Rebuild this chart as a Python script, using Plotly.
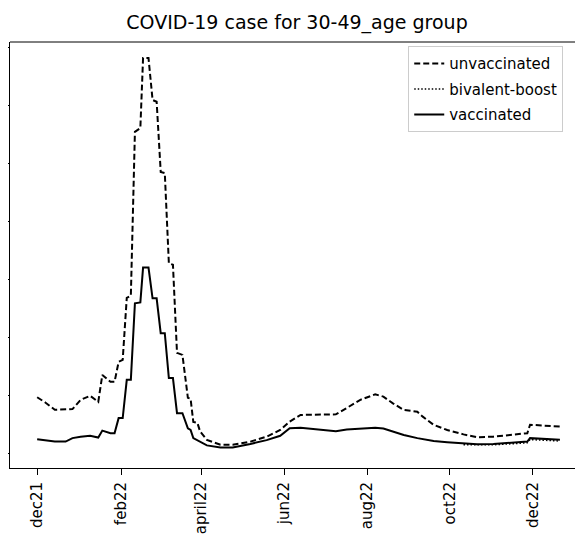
import plotly.graph_objects as go

dates = [
    "2021-12-01", "2021-12-07", "2021-12-14", "2021-12-22", "2021-12-27",
    "2022-01-02", "2022-01-09", "2022-01-15", "2022-01-18", "2022-01-24",
    "2022-01-27", "2022-01-30", "2022-02-02", "2022-02-05", "2022-02-08",
    "2022-02-11", "2022-02-15", "2022-02-17", "2022-02-21", "2022-02-24",
    "2022-02-27", "2022-03-02", "2022-03-05", "2022-03-08", "2022-03-11",
    "2022-03-14", "2022-03-18", "2022-03-22", "2022-03-24", "2022-03-26",
    "2022-03-29", "2022-03-31", "2022-04-05", "2022-04-15", "2022-04-24",
    "2022-05-07", "2022-05-19", "2022-05-29", "2022-06-05", "2022-06-13",
    "2022-06-25", "2022-07-09", "2022-07-17", "2022-07-27", "2022-08-07",
    "2022-08-13", "2022-08-20", "2022-08-28", "2022-09-07", "2022-09-11",
    "2022-09-19", "2022-09-29", "2022-10-11", "2022-10-21", "2022-11-02",
    "2022-11-17", "2022-11-27", "2022-11-29", "2022-12-21",
]

unvaccinated = [
    193, 175, 150, 150, 152,
    184, 198, 177, 270, 246,
    246, 315, 322, 536, 543,
    1108, 1121, 1363, 1363, 1218,
    1212, 970, 966, 655, 650,
    346, 339, 191, 188, 108,
    105, 75, 46, 29, 29,
    40, 57, 80, 109, 132,
    132, 134, 156, 184, 203,
    195, 172, 149, 143, 126,
    98, 80, 65, 55, 57,
    65, 69, 98, 92,
]

vaccinated = [
    48, 45, 40, 40, 52,
    57, 60, 54, 78, 69,
    69, 121, 121, 253, 253,
    517, 520, 640, 640, 534,
    534, 414, 414, 259, 259,
    138, 138, 86, 80, 52,
    45, 38, 27, 20, 20,
    32, 45, 60, 86, 88,
    83, 76, 82, 86, 88,
    85, 75, 63, 52, 48,
    42, 38, 33, 31, 32,
    37, 40, 52, 46,
]

bivalent_boost = [None] * 52 + [29, 28, 29, 33, 36, 47, 42]

tick_dates = ["2021-12-01", "2022-02-01", "2022-04-01", "2022-06-01",
              "2022-08-01", "2022-10-01", "2022-12-01"]
tick_labels = ["dec21", "feb22", "april22", "jun22", "aug22", "oct22", "dec22"]
y_ticks = [0, 200, 400, 600, 800, 1000, 1200, 1400]

FONT = "DejaVu Sans"
W, H = 575, 527

fig = go.Figure()
fig.add_trace(go.Scatter(x=dates, y=unvaccinated, mode="lines", name="unvaccinated",
                         legendgroup="a",
                         line=dict(color="black", width=2, dash="6px,3px")))
fig.add_trace(go.Scatter(x=dates, y=bivalent_boost, mode="lines", name="bivalent-boost",
                         legendgroup="b",
                         line=dict(color="black", width=1.5, dash="1.5px,2px")))
fig.add_trace(go.Scatter(x=dates, y=vaccinated, mode="lines", name="vaccinated",
                         legendgroup="c",
                         line=dict(color="black", width=2)))

fig.update_layout(
    width=W, height=H,
    margin=dict(l=2, r=0, t=34, b=67, autoexpand=False),
    paper_bgcolor="white", plot_bgcolor="white",
    font=dict(family=FONT, color="black"),
    title=dict(text="COVID-19 case for 30-49_age group", x=(289 / W), xanchor="center",
               y=1 - 14 / H, yanchor="middle", font=dict(size=19, family=FONT)),
    showlegend=True,
    legend=dict(x=0.695, y=0.99, xanchor="left", yanchor="top",
                bgcolor="white", bordercolor="#cccccc", borderwidth=1,
                font=dict(size=15, family=FONT), tracegroupgap=3, itemwidth=30),
    xaxis=dict(type="date", range=["2021-11-11", "2023-01-07"], automargin=False,
               tickvals=tick_dates, ticktext=tick_labels, tickangle=-90,
               ticks="outside", ticklen=6, tickcolor="black", ticklabelstandoff=1,
               showgrid=False, zeroline=False, showline=True, linecolor="black", linewidth=1,
               tickfont=dict(size=15, family=FONT)),
    yaxis=dict(range=[-51, 1418], tickvals=y_ticks, showticklabels=False, automargin=False,
               ticks="outside", ticklen=5, tickcolor="black",
               showgrid=False, zeroline=False, showline=True, linecolor="black", linewidth=1),
    shapes=[dict(type="line", xref="paper", yref="paper", x0=0, x1=1, y0=1, y1=1,
                 line=dict(color="black", width=1))],
)

fig.write_html("out.html")
